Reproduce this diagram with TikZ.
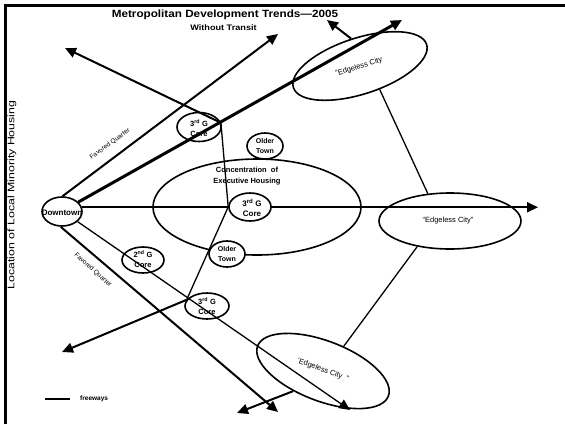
\documentclass[tikz,border=0pt]{standalone}
\usepackage{fontspec}
\setmainfont{Liberation Sans}
\usetikzlibrary{shapes.geometric,arrows.meta}
\pgfdeclarelayer{bg}
\pgfsetlayers{bg,main}
\newcommand\hstretch[2]{\scalebox{#1}[1]{#2}}
\begin{document}
\begin{tikzpicture}[x=1pt,y=-1pt,
  ell/.style={ellipse,draw,line width=1.6pt,inner sep=0pt},
  wf/.style={fill=white},
  road/.style={line width=2pt},
  thickroad/.style={line width=3pt},
  thinline/.style={line width=1.3pt},
  arr/.style={-{Triangle[length=11pt,width=10pt]}},
  lbl/.style={font=\bfseries\fontsize{7.5}{10}\selectfont,align=center,inner sep=0pt},
  corelbl/.style={font=\bfseries\fontsize{8}{10}\selectfont,align=center,inner sep=0pt},
  nlbl/.style={font=\fontsize{7.5}{9}\selectfont,inner sep=0pt},
  fqlbl/.style={font=\fontsize{6.5}{8}\selectfont,inner sep=0pt},
]
\useasboundingbox (0,0) rectangle (565,424);
% frame (top and left only)
\draw[line width=3.5pt] (5.5,424) -- (5.5,5.5) -- (565,5.5);

% ellipses
\node[ell,minimum width=208,minimum height=96] (conc) at (257,207) {};
\node[ell,minimum width=40,minimum height=29,wf] (dt) at (62,211.5) {};
\node[ell,minimum width=44,minimum height=29] (uc) at (199,127) {};
\node[ell,minimum width=36,minimum height=26,wf] (ou) at (265,146) {};
\node[ell,minimum width=42,minimum height=28,wf] (cc) at (250,207) {};
\node[ell,minimum width=36,minimum height=26,wf] (ol) at (227,254) {};
\node[ell,minimum width=42,minimum height=26] (sc) at (143,260) {};
\node[ell,minimum width=44,minimum height=26] (lc) at (207,306) {};
\node[ell,minimum width=140,minimum height=56,rotate=18] (te) at (360,66) {};
\node[ell,minimum width=142,minimum height=56] (re) at (450,221) {};
\node[ell,minimum width=140,minimum height=60,rotate=-21] (be) at (323,371) {};

% arrow tips
\coordinate (tNW) at (65,48);
\coordinate (tN) at (278,34);
\coordinate (tNE) at (402,20);
\coordinate (tTE) at (327,20);
\coordinate (tE) at (538,207);
\coordinate (tSW) at (62,352);
\coordinate (tS1) at (278,412);
\coordinate (tS2) at (237,413);
\coordinate (tS3) at (350,410);

\begin{pgfonlayer}{bg}
\draw[road,arr] (dt.88) -- (tN);
\draw[thickroad,arr] (dt.30) -- (tNE);
\draw[road,arr] (dt.12) -- (dt.12 -| tE);
\draw[road,arr] (dt.265) -- (tS1);
\draw[thinline,arr] (dt.-33) -- (tS3);
\draw[road,arr] (uc.11) -- (tNW);
\draw[thinline] (uc.11) -- (cc.west);
\draw[thinline] (cc.west) -- (lc.163);
\draw[road,arr] (lc.163) -- (tSW);
\draw[road,arr] (te.north) -- (tTE);
\draw[thinline] (te.-68) -- (re.129);
\draw[thinline] (re.218) -- (be.71);
\draw[road,arr] (be.235) -- (tS2);
\end{pgfonlayer}

% texts
\node[inner sep=0pt,font=\bfseries\fontsize{10.5}{12}\selectfont] (ttl) at (225,15) {\hstretch{1.115}{Metropolitan Development Trends—2005}};
\node[inner sep=0pt,font=\bfseries\fontsize{8}{10}\selectfont] (sub) at (223.5,28) {\hstretch{1.14}{Without Transit}};
\node[inner sep=0pt,font=\fontsize{9.5}{11}\selectfont,rotate=90] (yl) at (12,195) {\hstretch{1.3}{Location of Local Minority Housing}};

\node[corelbl] (tdt) at (62,213) {Downtown};
\node[lbl] (tuc) at (199,128) {3\textsuperscript{rd} G\\Core};
\node[lbl,font=\bfseries\fontsize{7}{10}\selectfont] (tou) at (265,146) {Older\\Town};
\node[lbl,font=\bfseries\fontsize{7.5}{11}\selectfont] (tconc) at (247,176.5) {Concentration\ \ of\\Executive Housing};
\node[corelbl] (tcc) at (252,208) {3\textsuperscript{rd} G\\Core};
\node[lbl,font=\bfseries\fontsize{7}{10}\selectfont] (tol) at (227,254) {Older\\Town};
\node[lbl] (tsc) at (143,259) {2\textsuperscript{nd} G\\Core};
\node[lbl] (tlc) at (207,306) {3\textsuperscript{rd} G\\Core};
\node[nlbl,rotate=17] (tte) at (359,67) {“Edgeless City};
\node[nlbl] (tre) at (448,221) {“Edgeless City”};
\node[nlbl,rotate=-20] (tbe) at (323,370) {‘Edgeless City\ \ ”};
\node[fqlbl,rotate=36] (fq1) at (110,144) {Favored Quarter};
\node[fqlbl,rotate=-42] (fq2) at (93,270) {Favored Quarter};

% legend
\coordinate (lg1) at (45,399);
\coordinate (lg2) at (70,399);
\draw[road] (lg1) -- (lg2);
\node[anchor=west,inner sep=0pt,font=\bfseries\fontsize{6.5}{8}\selectfont] (lgt) at (80,399) {freeways};
\end{tikzpicture}
\end{document}
